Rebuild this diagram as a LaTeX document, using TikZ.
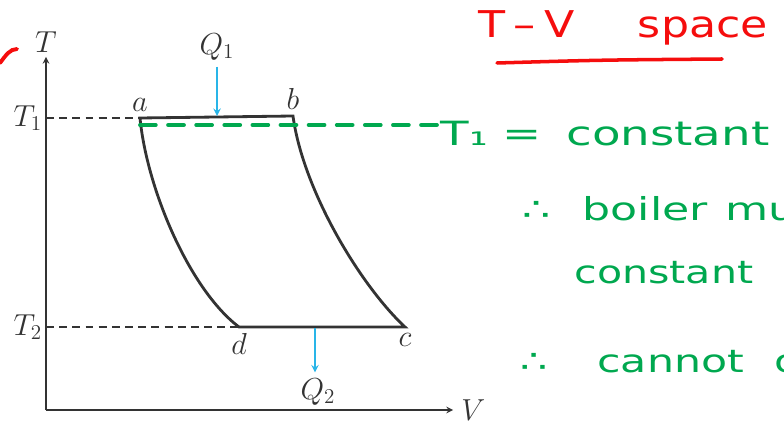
\documentclass[tikz,border=0pt]{standalone}
\usepackage{fontspec}
\usepackage{tikz}
\newfontfamily\handfont{DejaVu Sans}
\definecolor{linegray}{rgb}{0.2, 0.2, 0.2}
\definecolor{heatblue}{rgb}{0.16, 0.71, 0.91}
\definecolor{penred}{rgb}{0.96, 0.05, 0.05}
\definecolor{pengreen}{rgb}{0.0, 0.66, 0.31}

\begin{document}
\begin{tikzpicture}[x=0.02cm, y=-0.02cm]
    \useasboundingbox (0,0) rectangle (784,422);
    \clip (0,0) rectangle (784,422);

    % Corners of the cycle and ends of the axes
    \coordinate (o) at (46,410);
    \coordinate (tend) at (46,57);
    \coordinate (vend) at (453,410);
    \coordinate (a) at (140,118);
    \coordinate (b) at (293,116);
    \coordinate (c) at (405,327);
    \coordinate (d) at (239,327);

    % Axes
    \draw[->, >=stealth, linegray, line width=0.7pt] (o) -- (tend);
    \draw[->, >=stealth, linegray, line width=0.7pt] (o) -- (vend);
    \node(tlabel)[font=\fontsize{17}{19}\selectfont, text=linegray, above=-1pt] at (tend) {$T$};
    \node(vlabel)[font=\fontsize{17}{19}\selectfont, text=linegray, inner sep=0.5pt, right=4pt] at (vend) {$V$};

    % Level lines T1 and T2
    \node(tone)[font=\fontsize{17}{19}\selectfont, text=linegray, anchor=east, inner sep=2pt] at (46,118) {$T_1$};
    \node(ttwo)[font=\fontsize{17}{19}\selectfont, text=linegray, anchor=east, inner sep=2pt] at (46,327) {$T_2$};
    \draw[linegray, line width=0.6pt, dash pattern=on 4.5pt off 3pt] (tone.east) -- (a);
    \draw[linegray, line width=0.6pt, dash pattern=on 4.5pt off 3pt] (ttwo.east) -- (d);

    % The cycle
    \draw[linegray, line width=1.6pt, line join=miter]
        (d) .. controls (190,290) and (147,190) .. (a)
        -- (b)
        .. controls (303,190) and (360,285) .. (c)
        -- cycle;

    % Corner labels
    \foreach \p/\pos in {a/above, b/above, c/below, d/below} {
        \node(lbl-\p)[font=\fontsize{17}{19}\selectfont, text=linegray, \pos=0pt] at (\p) {$\p$};
    }

    % Heat in and heat out
    \node(qone)[font=\fontsize{17}{19}\selectfont, text=linegray] at (217,47) {$Q_1$};
    \coordinate (qonetip) at (217,116);
    \draw[->, >=stealth, heatblue, line width=0.9pt] (qone.south) -- (qonetip);
    \node(qtwo)[font=\fontsize{17}{19}\selectfont, text=linegray] at (318,392) {$Q_2$};
    \coordinate (qtwotop) at (315,328);
    \draw[->, >=stealth, heatblue, line width=0.9pt] (qtwotop) -- (qtwotop |- qtwo.north);

    % Red handwriting
    \draw[penred, line width=2.2pt, line cap=round] (0,63) .. controls (6,55) and (10,49) .. (17,49);
    \node(title)[font=\handfont\fontsize{21}{24}\selectfont, text=penred, anchor=base west, xscale=1.2, inner sep=0pt]
        at (478,38) {T\hspace{4pt}–\hspace{4pt}V\hspace{30pt}space};
    \draw[penred, line width=2pt, line cap=round] (497,63) .. controls (600,60) .. (722,59);

    % Green handwriting
    \coordinate (gend) at (438,125);
    \draw[pengreen, line width=2.2pt, line cap=round, dash pattern=on 9pt off 7pt] (a) ++(0,7) -- (gend);
    \node(tconst)[font=\handfont\fontsize{19}{22}\selectfont, text=pengreen, anchor=base west, xscale=1.4, inner sep=0pt]
        at (440,146) {T₁\hspace{6pt}=\hspace{10pt}constant};
    \node(boiler)[font=\handfont\fontsize{18}{22}\selectfont, text=pengreen, anchor=base west, xscale=1.4, inner sep=0pt]
        at (522,220) {∴\hspace{13pt}boiler\hspace{7pt}mu};
    \node(constant)[font=\handfont\fontsize{18}{22}\selectfont, text=pengreen, anchor=base west, xscale=1.3, inner sep=0pt]
        at (574,283) {constant};
    \node(cannot)[font=\handfont\fontsize{18}{22}\selectfont, text=pengreen, anchor=base west, xscale=1.35, inner sep=0pt]
        at (520,372) {∴\hspace{21pt}cannot\hspace{13pt}o};

\end{tikzpicture}
\end{document}
